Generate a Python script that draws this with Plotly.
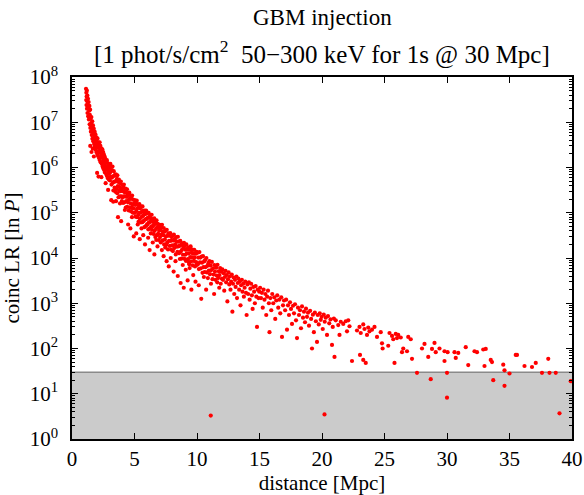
import plotly.graph_objects as go

# ---- data (distance [Mpc], coinc LR) ----
pts_1_2 = [(1.12,5.5e7),(1.14,3.1e7),(1.15,4.5e7),(1.16,2.4e7),(1.17,3.7e7),(1.19,5.0e7),(1.20,2.0e7),(1.21,2.9e7),
           (1.23,3.9e7),(1.24,1.6e7),(1.26,2.5e7),(1.28,3.3e7),(1.29,1.35e7),(1.31,2.1e7),(1.33,2.8e7),(1.35,1.15e7),
           (1.37,1.8e7),(1.39,2.3e7),(1.41,9.0e6),(1.43,1.45e7),(1.45,1.9e7),(1.46,3.0e6),(1.47,7.5e6),(1.49,1.2e7),
           (1.51,6.2e6),(1.53,9.5e6),(1.55,1.3e7),(1.56,2.2e6),(1.58,5.2e6),(1.60,8.2e6),(1.62,1.05e7),(1.63,4.3e6),
           (1.65,6.6e6),(1.66,2.6e6),(1.68,8.5e6),(1.70,3.8e6),(1.72,5.6e6),(1.74,7.2e6),(1.75,1.75e6),(1.77,3.3e6),
           (1.79,4.8e6),(1.81,6.2e6),(1.83,2.9e6),(1.85,4.1e6),(1.87,5.4e6),(1.89,2.5e6),(1.91,3.6e6),(1.93,4.7e6),
           (1.95,2.2e6),(1.97,3.1e6),(1.99,4.2e6)]
pts_2_3 = [(2.01,7.6e5),(2.02,2.0e6),(2.04,4.4e6),(2.06,2.8e6),(2.08,1.8e6),(2.10,3.6e6),(2.12,6.3e5),(2.13,2.3e6),
           (2.15,3.3e6),(2.17,1.6e6),(2.19,2.7e6),(2.21,3.6e6),(2.23,1.45e6),(2.25,2.1e6),(2.27,3.0e6),(2.29,1.3e6),
           (2.31,2.4e6),(2.33,1.75e6),(2.35,6.1e5),(2.37,2.6e6),(2.39,1.2e6),(2.41,1.95e6),(2.43,2.5e6),(2.45,1.05e6),
           (2.47,1.6e6),(2.49,2.2e6),(2.51,9.5e5),(2.53,1.4e6),(2.55,1.95e6),(2.57,8.8e5),(2.59,1.25e6),(2.61,1.75e6),
           (2.63,7.8e5),(2.65,1.1e6),(2.67,1.55e6),(2.69,4.5e5),(2.71,9.5e5),(2.73,1.35e6),(2.75,7.0e5),(2.77,1.05e6),
           (2.79,1.45e6),(2.81,6.4e5),(2.83,8.8e5),(2.85,1.25e6),(2.87,5.8e5),(2.89,3.2e5),(2.91,8.0e5),(2.93,1.1e6),
           (2.95,5.4e5),(2.97,7.4e5),(2.99,9.8e5)]
pts_3_4 = [(3.01,1.15e6),(3.03,5.2e5),(3.06,7.9e5),(3.07,1.2e6),(3.10,6.3e5),(3.13,8.6e5),(3.14,1.9e5),(3.16,4.2e5),
           (3.19,8.8e5),(3.20,6.0e5),(3.24,1.05e6),(3.25,4.6e5),(3.28,6.4e5),(3.30,1.75e5),(3.31,3.1e5),(3.34,8.3e5),
           (3.35,4.8e5),(3.39,6.6e5),(3.41,3.6e5),(3.44,6.9e5),(3.45,4.9e5),(3.48,2.9e5),(3.51,7.1e5),(3.52,1.8e5),
           (3.53,5.1e5),(3.57,3.4e5),(3.59,5.6e5),(3.62,2.7e5),(3.63,6.7e5),(3.67,3.9e5),(3.68,8.0e4),(3.70,4.8e5),
           (3.72,2.2e5),(3.75,5.4e5),(3.77,3.1e5),(3.80,3.7e5),(3.82,2.3e5),(3.84,1.6e5),(3.86,4.5e5),(3.88,3.0e5),
           (3.91,4.9e5),(3.93,6.5e4),(3.94,2.3e5),(3.97,3.4e5),(3.99,1.8e5)]
pts_4_5 = [(4.02,4.1e5),(4.03,2.2e5),(4.07,3.0e5),(4.08,1.65e5),(4.11,3.6e5),(4.14,2.3e5),(4.15,4.2e5),(4.19,1.7e5),
           (4.21,2.85e5),(4.23,1.15e5),(4.25,2.3e5),(4.28,3.4e5),(4.30,1.3e5),(4.33,2.8e5),(4.34,1.8e5),(4.38,2.25e5),
           (4.40,3.3e5),(4.41,1.35e5),(4.45,2.45e5),(4.47,1.7e5),(4.49,5.5e4),(4.51,2.7e5),(4.54,1.12e5),(4.56,1.95e5),
           (4.58,2.8e5),(4.62,1.32e5),(4.63,2.05e5),(4.67,4.5e4),(4.68,1.62e5),(4.70,2.4e5),(4.73,1.07e5),(4.75,2.1e5),
           (4.78,1.28e5),(4.80,8.0e4),(4.81,2.4e5),(4.84,1.5e5),(4.87,1.0e5),(4.88,1.95e5),(4.92,1.25e5),(4.94,3.0e4),
           (4.95,1.6e5),(4.98,1.0e5)]
pts_5_6 = [(5.02,1.9e5),(5.04,1.0e5),(5.06,1.5e5),(5.09,8.2e4),(5.11,1.65e5),(5.14,3.5e4),(5.15,1.1e5),(5.18,1.85e5),
           (5.21,8.0e4),(5.22,1.25e5),(5.26,5.5e4),(5.27,1.53e5),(5.30,9.0e4),(5.32,6.3e4),(5.34,1.3e5),(5.37,1.0e5),
           (5.39,1.55e5),(5.42,2.6e4),(5.43,7.4e4),(5.46,1.25e5),(5.48,1.0e5),(5.51,6.1e4),(5.53,1.36e5),(5.56,4.5e4),
           (5.57,8.1e4),(5.60,1.06e5),(5.63,6.2e4),(5.64,1.38e5),(5.68,8.5e4),(5.70,3.2e4),(5.71,1.1e5),(5.74,6.6e4),
           (5.77,9.2e4),(5.79,4.8e4),(5.81,1.12e5),(5.84,2.0e4),(5.86,7.1e4),(5.88,9.4e4),(5.91,5.1e4),(5.93,1.12e5),
           (5.96,7.3e4),(5.99,5.4e4)]
pts_6_7 = [(6.01,9.7e4),(6.04,5.6e4),(6.06,7.7e4),(6.09,2.8e4),(6.10,4.3e4),(6.13,1.0e5),(6.15,6.1e4),(6.18,7.9e4),
           (6.21,1.5e4),(6.22,4.5e4),(6.25,8.8e4),(6.27,6.3e4),(6.30,3.5e4),(6.32,7.4e4),(6.35,5.0e4),(6.37,9.0e4),
           (6.40,4.2e4),(6.43,6.4e4),(6.46,2.2e4),(6.47,5.0e4),(6.50,7.2e4),(6.53,3.4e4),(6.55,5.5e4),(6.58,7.5e4),
           (6.59,1.2e4),(6.61,4.0e4),(6.64,5.7e4),(6.67,2.9e4),(6.69,6.3e4),(6.72,4.4e4),(6.74,2.5e4),(6.76,6.8e4),
           (6.79,3.2e4),(6.81,4.8e4),(6.84,1.8e4),(6.86,5.7e4),(6.89,3.4e4),(6.92,4.8e4),(6.94,2.5e4),(6.97,4.0e4)]
pts_7_8 = [(7.02,5.4e4),(7.04,2.9e4),(7.08,4.2e4),(7.10,2.2e4),(7.13,4.7e4),(7.16,3.3e4),(7.19,1.5e4),(7.20,5.4e4),
           (7.23,2.45e4),(7.27,3.8e4),(7.30,3.2e4),(7.33,1.1e4),(7.34,4.6e4),(7.37,2.0e4),(7.40,3.8e4),(7.43,2.55e4),
           (7.46,1.7e4),(7.48,4.0e4),(7.51,3.0e4),(7.54,1.95e4),(7.57,8.5e3),(7.58,4.2e4),(7.62,2.2e4),(7.65,3.1e4),
           (7.68,1.55e4),(7.71,3.5e4),(7.74,6.5e3),(7.76,2.4e4),(7.80,3.1e4),(7.83,1.85e4),(7.86,3.55e4),(7.90,1.0e4),
           (7.91,2.4e4),(7.94,1.52e4),(7.97,2.9e4)]
pts_8_9 = [(8.02,1.9e4),(8.05,3.1e4),(8.07,1.42e4),(8.11,2.45e4),(8.13,5.0e3),(8.15,3.3e4),(8.18,1.66e4),(8.22,2.6e4),
           (8.25,2.0e4),(8.28,8.5e3),(8.30,1.2e4),(8.33,2.9e4),(8.36,1.78e4),(8.39,2.3e4),(8.43,1.36e4),(8.46,4.0e3),
           (8.47,2.95e4),(8.50,1.8e4),(8.54,2.3e4),(8.57,1.28e4),(8.60,1.85e4),(8.63,9.5e3),(8.66,2.4e4),(8.69,2.8e3),
           (8.70,1.38e4),(8.74,1.95e4),(8.77,9.7e3),(8.80,1.52e4),(8.83,2.1e4),(8.86,7.0e3),(8.88,1.18e4),(8.92,1.7e4),
           (8.94,2.2e3),(8.96,2.15e4),(8.99,9.6e3)]
pts_9_10 = [(9.02,1.85e4),(9.05,1.18e4),(9.08,1.53e4),(9.10,5.5e3),(9.12,8.6e3),(9.15,2.0e4),(9.18,1.26e4),(9.22,1.57e4),
            (9.25,3.2e3),(9.27,9.4e3),(9.30,1.72e4),(9.33,1.27e4),(9.36,8.0e3),(9.38,7.3e3),(9.41,6.0e3),(9.42,1.53e4),
            (9.46,1.05e4),(9.49,1.8e4),(9.52,8.4e3),(9.55,2.0e3),(9.56,1.3e4),(9.60,1.04e4),(9.63,1.53e4),(9.66,6.9e3),
            (9.70,4.2e3),(9.71,1.25e4),(9.75,8.6e3),(9.78,1.51e4),(9.81,1.02e4),(9.84,6.5e3),(9.88,3.0e3),(9.89,1.24e4),
            (9.93,8.1e3),(9.96,1.36e4),(9.99,7.0e3)]
pts_10_12 = [(10.03,1.3e4),(10.07,7.3e3),(10.10,1.02e4),(10.14,2.5e3),(10.15,5.7e3),(10.19,1.35e4),(10.23,8.0e3),
             (10.27,1.02e4),(10.31,5.9e3),(10.34,1.25e3),(10.36,1.08e4),(10.40,7.9e3),(10.44,4.7e3),(10.48,1.1e4),
             (10.52,6.3e3),(10.55,3.8e3),(10.57,8.4e3),(10.61,4.9e3),(10.65,9.0e3),(10.69,6.3e3),(10.73,2.0e3),
             (10.75,1.0e4),(10.79,4.8e3),(10.83,6.7e3),(10.87,3.6e3),(10.91,7.7e3),(10.95,5.3e3),(10.99,8.5e3),
             (11.04,4.4e3),(11.08,6.8e3),(11.12,2.7e3),(11.14,5.4e3),(11.19,8.2e3),(11.24,3.4e3),(11.28,5.9e3),
             (11.33,4.3e3),(11.37,1.6e3),(11.39,7.0e3),(11.44,5.0e3),(11.48,3.3e3),(11.53,6.1e3),(11.58,4.1e3),
             (11.62,2.9e3),(11.64,7.1e3),(11.69,3.6e3),(11.74,5.1e3),(11.78,2.2e3),(11.80,4.2e3),(11.85,6.0e3),
             (11.90,2.7e3),(11.95,5.0e3),(11.99,3.5e3)]
pts_12_15 = [(12.03,5.6e3),(12.08,3.3e3),(12.13,4.6e3),(12.18,1.9e3),(12.23,3.8e3),(12.28,5.2e3),(12.33,2.9e3),
             (12.38,4.2e3),(12.43,1.1e3),(12.48,3.4e3),(12.53,4.8e3),(12.58,2.6e3),(12.63,3.9e3),(12.68,2.0e3),
             (12.73,3.0e3),(12.78,4.3e3),(12.83,6.5e2),(12.88,2.7e3),(12.93,3.7e3),(12.98,1.6e3),
             (13.04,3.3e3),(13.09,2.3e3),(13.15,3.9e3),(13.20,1.3e3),(13.26,2.8e3),(13.31,3.5e3),(13.37,2.0e3),
             (13.42,3.0e3),(13.48,9.0e2),(13.53,2.5e3),(13.59,3.3e3),(13.64,1.8e3),(13.70,2.7e3),(13.75,1.4e3),
             (13.81,2.2e3),(13.86,3.0e3),(13.92,1.7e3),(13.97,5.5e2),
             (14.03,2.6e3),(14.09,1.6e3),(14.15,2.9e3),(14.21,1.2e3),(14.27,2.1e3),(14.33,2.7e3),(14.39,1.5e3),
             (14.45,7.5e2),(14.51,2.3e3),(14.57,1.8e3),(14.63,1.0e3),(14.69,2.4e3),(14.75,1.4e3),(14.80,3.0e2),
             (14.86,2.0e3),(14.92,1.3e3),(14.98,1.8e3)]
pts_15_21 = [(15.05,2.2e3),(15.12,1.3e3),(15.19,1.7e3),(15.26,8.0e2),(15.33,2.0e3),(15.40,1.2e3),(15.47,1.6e3),
             (15.54,5.5e2),(15.61,1.4e3),(15.68,1.9e3),(15.75,1.0e3),(15.80,2.3e2),(15.87,1.3e3),(15.94,7.0e2),
             (16.02,1.6e3),(16.10,1.0e3),(16.18,1.35e3),(16.26,4.5e2),(16.34,1.15e3),(16.42,1.5e3),(16.50,8.0e2),
             (16.58,1.2e3),(16.66,6.0e2),(16.74,1.35e3),(16.80,1.8e2),(16.88,9.0e2),(16.96,1.15e3),
             (17.05,7.0e2),(17.13,1.2e3),(17.20,2.6e2),(17.28,9.0e2),(17.36,5.5e2),(17.44,1.05e3),(17.52,7.5e2),
             (17.60,3.5e2),(17.68,8.8e2),(17.76,6.0e2),(17.84,9.5e2),(17.92,4.2e2),
             (18.00,1.7e2),(18.08,8.0e2),(18.16,5.5e2),(18.24,7.0e2),(18.32,2.8e2),(18.40,8.5e2),(18.48,4.8e2),
             (18.56,6.5e2),(18.64,3.8e2),(18.72,7.6e2),(18.80,5.0e2),(18.88,6.2e2),(18.96,3.2e2),
             (19.05,6.8e2),(19.13,4.5e2),(19.20,1.0e2),(19.27,5.6e2),(19.35,2.3e2),(19.43,6.2e2),(19.51,4.0e2),
             (19.60,1.4e2),(19.66,5.5e2),(19.74,3.4e2),(19.82,6.0e2),(19.90,4.3e2),(19.97,5.0e2),
             (20.06,2.7e2),(20.14,5.6e2),(20.22,3.9e2),(20.30,4.8e2),(20.40,2.0e2),(20.48,5.2e2),(20.58,3.6e2),
             (20.68,4.4e2),(20.80,1.2e2),(20.86,3.0e2),(20.95,4.6e2)]
pts_21_27 = [(21.0,65),(21.1,420),(21.3,330),(21.4,200),(21.5,390),(21.7,350),(21.9,400),(22.0,240),(22.1,420),
             (22.2,310),(22.4,53),(22.8,250),(23.0,300),(23.04,72),(23.1,220),(23.3,340),(23.3,56),(23.4,270),
             (23.5,48),(23.6,200),(23.7,290),(23.8,240),(24.0,260),(24.2,300),(24.4,180),(24.7,230),(24.8,130),
             (24.85,100),(25.3,115),(25.4,220),(25.6,190),(25.7,160),(25.8,48),(25.9,210),(26.0,170),(26.1,200),
             (26.3,175),(26.4,83),(26.5,100),(26.8,87),(26.9,180),(27.1,160),(27.2,59)]
pts_27_40 = [(27.6,29),(28.0,100),(28.2,126),(28.5,65),(28.7,21),(28.8,98),(29.0,133),(29.1,83),(29.4,100),
             (29.8,87),(29.8,53),(30.0,29),(30.05,83),(30.0,8.2),(30.6,83),(30.7,62),(30.9,80),(31.5,107),(31.7,43),
             (32.2,87),(32.4,83),(32.9,95),(33.1,98),(33.0,41),(33.5,56),(33.6,50),(33.7,20),(34.5,44),(34.6,33),
             (34.6,15),(35.0,28),(35.5,72),(35.6,72),(36.2,41),(36.8,39),(37.1,48),(37.6,29),(38.1,59),(38.2,29),
             (38.7,29),(39.0,3.7),(39.9,19)]
pts_low = [(11.1,3.3),(20.2,3.5)]

threshold = 30.0
x_range = [0, 40]
x_tick_vals = [0, 5, 10, 15, 20, 25, 30, 35, 40]
y_exponents = [0, 1, 2, 3, 4, 5, 6, 7, 8]

title_line1 = "GBM injection"
title_line2 = "[1 phot/s/cm<sup>2</sup>\u00a0\u00a050\u2212300 keV for 1s @ 30 Mpc]"

# ---- build figure ----
all_pts = (pts_1_2 + pts_2_3 + pts_3_4 + pts_4_5 + pts_5_6 + pts_6_7 + pts_7_8 + pts_8_9 +
           pts_9_10 + pts_10_12 + pts_12_15 + pts_15_21 + pts_21_27 + pts_27_40 + pts_low)
dist = [p[0] for p in all_pts]
lr = [p[1] for p in all_pts]

y_lo = 10 ** y_exponents[0]
fig = go.Figure()
fig.add_trace(go.Scatter(
    x=[x_range[0], x_range[1], x_range[1], x_range[0], x_range[0]],
    y=[y_lo, y_lo, threshold, threshold, y_lo],
    mode="lines", fill="toself", fillcolor="#cbcbcb",
    line=dict(width=0), hoverinfo="skip", showlegend=False))
fig.add_trace(go.Scatter(
    x=x_range, y=[threshold, threshold], mode="lines",
    line=dict(color="#8a8a8a", width=1.5), hoverinfo="skip", showlegend=False))
fig.add_trace(go.Scatter(
    x=dist, y=lr, mode="markers",
    marker=dict(color="#ff0000", size=4.2, line=dict(width=0)),
    showlegend=False))

font_family = "Liberation Serif, Times New Roman, serif"
minor_vals = [m * 10 ** e for e in y_exponents[:-1] for m in range(2, 10)]
H = 362.0  # plot-area height in px

fig.update_layout(
    width=584, height=495,
    margin=dict(l=72, r=12, t=77, b=56, autoexpand=False),
    paper_bgcolor="white", plot_bgcolor="white",
    font=dict(family=font_family, size=21, color="black"),
    showlegend=False,
    xaxis=dict(
        range=x_range, tickmode="array", tickvals=x_tick_vals,
        ticks="inside", ticklen=6, tickwidth=1, tickcolor="black",
        showline=True, linecolor="black", linewidth=1.5, mirror="allticks",
        showgrid=False, zeroline=False, automargin=False,
        tickfont=dict(family=font_family, size=21, color="black"),
        title=dict(text="distance [Mpc]", font=dict(family=font_family, size=21), standoff=4),
    ),
    yaxis=dict(
        type="log", range=[y_exponents[0], y_exponents[-1]],
        tickmode="array", tickvals=[10 ** e for e in y_exponents],
        ticktext=["10<sup>%d</sup>" % e for e in y_exponents],
        ticks="inside", ticklen=6, tickwidth=1, tickcolor="black",
        ticklabelstandoff=8,
        minor=dict(tickmode="array", tickvals=minor_vals, ticks="inside", ticklen=3,
                   tickwidth=1, tickcolor="black", showgrid=False),
        showline=True, linecolor="black", linewidth=1.5, mirror="allticks",
        showgrid=False, zeroline=False, automargin=False,
        tickfont=dict(family=font_family, size=21, color="black"),
        title=dict(text="coinc LR [ln <i>P</i>]", font=dict(family=font_family, size=21), standoff=6),
    ),
    annotations=[
        dict(text=title_line1, xref="paper", yref="paper", x=0.5, y=(439 - 18) / H,
             xanchor="center", yanchor="middle", showarrow=False,
             font=dict(family=font_family, size=23, color="black")),
        dict(text=title_line2, xref="paper", yref="paper", x=0.5, y=(439 - 52) / H,
             xanchor="center", yanchor="middle", showarrow=False,
             font=dict(family=font_family, size=25, color="black")),
    ],
)

fig.write_html("out.html", config={"displayModeBar": False},
               post_script="document.body.style.margin='0';document.body.style.overflow='hidden';")
